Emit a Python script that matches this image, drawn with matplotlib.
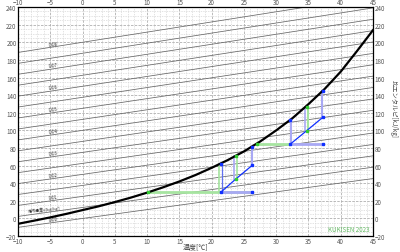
import numpy as np
import matplotlib
matplotlib.use("Agg")
import matplotlib.pyplot as plt
from matplotlib.ticker import MultipleLocator

plt.rcParams['font.family'] = ['Liberation Sans Narrow', 'Noto Sans CJK JP', 'DejaVu Sans']

# saturation curve (temp degC, enthalpy kJ/kg)
sat_t = [-10, -7.5, -5, -2.5, 0, 2.5, 5, 7.5, 10, 12.5, 15, 17.5, 20, 22.5,
         25, 27.5, 30, 32.5, 35, 37.5, 40, 42.5, 45]
sat_h = [-6.1, -2.5, 1.2, 5.2, 9.5, 13.8, 18.6, 23.7, 29.3, 35.4, 42.0, 49.3,
         57.5, 66.3, 76.1, 87.3, 100.0, 113.7, 129.8, 147.0, 166.7, 189.9, 213.8]

# constant absolute humidity lines: enthalpy at t=-10 and t=45
hum_x = [0.0, 0.005, 0.01, 0.015, 0.02, 0.025, 0.03, 0.035, 0.04, 0.045,
         0.05, 0.055, 0.06, 0.065, 0.07, 0.075, 0.08]
hum_left = [-10.1, 2.3, 14.8, 27.2, 39.6, 52.0, 64.4, 76.8, 89.2, 101.6,
            114.1, 126.5, 138.9, 151.3, 163.7, 176.1, 188.5]
hum_right = [45.3, 58.2, 71.1, 84.0, 97.0, 109.9, 122.8, 135.7, 148.7, 161.6,
             174.5, 187.4, 200.4, 213.3, 226.2, 239.1, 252.0]
hum_labels = ["0.00", "0.01", "0.02", "0.03", "0.04", "0.05", "0.06", "0.07", "0.08"]

# process 1
p1_green_t = [10.2, 26.3]
p1_base_h = 29.6
p1_blue_t = [21.4, 26.3]
p1_diag_t = [21.4, 23.7, 26.3]
p1_diag_h = [29.6, 44.5, 60.4]
p1_top_h = [61.8, 71.0, 80.6]
# process 2
p2_green_t = [27.0, 32.2]
p2_base_h = 84.5
p2_blue_t = [32.2, 37.2]
p2_diag_t = [32.2, 34.7, 37.2]
p2_diag_h = [84.5, 99.5, 114.7]
p2_top_h = [112.0, 127.0, 145.0]

LGREEN = '#a6e4a0'
LBLUE = '#a8a8f4'
GREEN = '#33cc33'
BLUE = '#1030ff'

fig = plt.figure(figsize=(4, 2.53), dpi=100)
ax = fig.add_axes([0.045, 0.063, 0.8875, 0.905])

ax.set_xlim(-10, 45)
ax.set_ylim(-20, 240)
ax.xaxis.set_major_locator(MultipleLocator(5))
ax.xaxis.set_minor_locator(MultipleLocator(1))
ax.yaxis.set_major_locator(MultipleLocator(20))
ax.yaxis.set_minor_locator(MultipleLocator(5))
ax.grid(which='minor', color='#d8d8d8', lw=0.5, ls=(0, (2, 1.5)))
ax.grid(which='major', color='#b0b0b0', lw=0.6, ls=(0, (3, 1.5)))
ax.tick_params(which='both', length=0, labelsize=4.5, colors='#555555', pad=1,
               top=True, right=True, labeltop=True, labelright=True)
for s in ax.spines.values():
    s.set_linewidth(0.9)

# humidity lines
for i in range(len(hum_x)):
    ax.plot([-10, 45], [hum_left[i], hum_right[i]], color='#666666', lw=0.55, zorder=2)
for i, lab in enumerate(hum_labels):
    j = i * 2
    y = np.interp(-4.5, [-10, 45], [hum_left[j], hum_right[j]]) + 3.8
    ax.text(-4.5, y, lab, fontsize=3.4, color='#333333', ha='center', va='center', rotation=7)
ax.text(-8.5, 10.5, "絶対湿度x[kg/kg']", fontsize=3, color='#333333', rotation=6,
        ha='left', va='center', family=['Noto Sans CJK JP', 'DejaVu Sans'])

# process 1
ax.plot(p1_green_t, [p1_base_h] * 2, color=LGREEN, lw=2, zorder=3)
ax.plot(p1_blue_t, [p1_base_h] * 2, color=LBLUE, lw=2, zorder=3)
ax.plot([p1_diag_t[0] - 0.25] * 2, [p1_diag_h[0], p1_top_h[0]], color=LGREEN, lw=1.2, zorder=3)
ax.plot([p1_diag_t[0] + 0.2] * 2, [p1_diag_h[0], p1_top_h[0]], color='#6070f0', lw=0.9, zorder=3)
ax.plot([p1_diag_t[1] - 0.2] * 2, [p1_diag_h[1], p1_top_h[1]], color=LBLUE, lw=1.2, zorder=3)
ax.plot([p1_diag_t[1] + 0.25] * 2, [p1_diag_h[1], p1_top_h[1]], color=LGREEN, lw=1.2, zorder=3)
ax.plot([p1_diag_t[2] - 0.1] * 2, [p1_diag_h[2], p1_top_h[2]], color=LBLUE, lw=1.5, zorder=3)
ax.plot(p1_diag_t, p1_diag_h, color=BLUE, lw=0.9, zorder=4)

# process 2
ax.plot(p2_green_t, [p2_base_h] * 2, color=LGREEN, lw=2, zorder=3)
ax.plot(p2_blue_t, [p2_base_h] * 2, color=LBLUE, lw=2, zorder=3)
ax.plot([p2_diag_t[0] + 0.1] * 2, [p2_diag_h[0], p2_top_h[0]], color=LBLUE, lw=1.5, zorder=3)
ax.plot([p2_diag_t[1] - 0.2] * 2, [p2_diag_h[1], p2_top_h[1]], color=LBLUE, lw=1.2, zorder=3)
ax.plot([p2_diag_t[1] + 0.2] * 2, [p2_diag_h[1], p2_top_h[1]], color=LGREEN, lw=1.5, zorder=3)
ax.plot([p2_diag_t[2] - 0.1] * 2, [p2_diag_h[2], p2_top_h[2]], color=LBLUE, lw=1.5, zorder=3)
ax.plot(p2_diag_t, p2_diag_h, color=BLUE, lw=0.9, zorder=4)

# saturation curve
ax.plot(sat_t, sat_h, color='black', lw=1.6, zorder=5)

# markers
ms = 1.8
for dt, dh, top, gt, bt, bh in [(p1_diag_t, p1_diag_h, p1_top_h, p1_green_t, p1_blue_t, p1_base_h),
                                (p2_diag_t, p2_diag_h, p2_top_h, p2_green_t, p2_blue_t, p2_base_h)]:
    ax.plot([dt[0], dt[2]], [dh[0], dh[2]], 's', color=BLUE, ms=ms, zorder=6)
    ax.plot([dt[1]], [dh[1]], 's', color=GREEN, ms=ms, zorder=6)
    ax.plot([dt[0], dt[2]], [top[0], top[2]], 's', color=BLUE, ms=ms, zorder=6)
    ax.plot([dt[1]], [top[1]], 's', color=GREEN, ms=ms, zorder=6)
    ax.plot([gt[0]], [bh], 's', color=GREEN, ms=ms, zorder=6)
    ax.plot([bt[1]], [bh], 's', color=BLUE, ms=ms, zorder=6)

ax.text(44.5, -16, "KUKISEN 2023", fontsize=4.5, color='#66bb66', ha='right', va='bottom')
fig.text(0.49, 0.008, "温度[℃]", fontsize=5, color='#444444', ha='center', va='bottom',
         family=['Noto Sans CJK JP', 'DejaVu Sans'])
fig.text(0.985, 0.57, "比エンタルピ[kJ/kg]", fontsize=4.5, color='#444444', rotation=270,
         ha='center', va='center', family=['Noto Sans CJK JP', 'DejaVu Sans'])

fig.savefig("out.png", dpi=100)
